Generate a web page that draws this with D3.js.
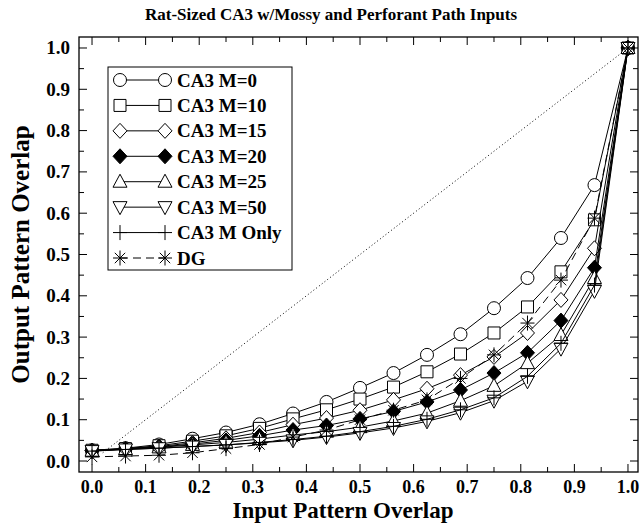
<!DOCTYPE html>
<html><head><meta charset="utf-8">
<script src="https://cdn.jsdelivr.net/npm/d3@7"></script>
<style>
body{margin:0;background:#fff}
svg{display:block}
text{font-family:"Liberation Serif","Times New Roman",serif;font-weight:bold;fill:#000}
</style>
</head><body>
<svg id="chart" width="640" height="525"></svg>
<script>
const inputOverlap = [0, 0.0625, 0.125, 0.1875, 0.25, 0.3125, 0.375, 0.4375, 0.5, 0.5625, 0.625, 0.6875, 0.75, 0.8125, 0.875, 0.9375, 1.0];
const seriesNames = ["CA3 M=0", "CA3 M=10", "CA3 M=15", "CA3 M=20", "CA3 M=25", "CA3 M=50", "CA3 M Only", "DG"];
const ca3M0    = [0.026, 0.031, 0.040, 0.054, 0.069, 0.089, 0.115, 0.143, 0.177, 0.213, 0.257, 0.307, 0.370, 0.443, 0.540, 0.668, 1.0];
const ca3M10   = [0.026, 0.030, 0.037, 0.048, 0.061, 0.079, 0.102, 0.124, 0.150, 0.179, 0.216, 0.259, 0.310, 0.373, 0.458, 0.584, 1.0];
const ca3M15   = [0.025, 0.030, 0.035, 0.044, 0.055, 0.069, 0.088, 0.104, 0.123, 0.148, 0.175, 0.208, 0.252, 0.310, 0.390, 0.515, 1.0];
const ca3M20   = [0.025, 0.029, 0.034, 0.041, 0.050, 0.061, 0.075, 0.086, 0.102, 0.120, 0.143, 0.172, 0.213, 0.262, 0.340, 0.468, 1.0];
const ca3M25   = [0.025, 0.029, 0.033, 0.039, 0.045, 0.053, 0.063, 0.071, 0.082, 0.097, 0.116, 0.146, 0.182, 0.237, 0.305, 0.443, 1.0];
const ca3M50   = [0.024, 0.028, 0.031, 0.035, 0.039, 0.044, 0.050, 0.058, 0.068, 0.080, 0.096, 0.117, 0.146, 0.193, 0.272, 0.412, 1.0];
const ca3MOnly = [0.024, 0.028, 0.031, 0.035, 0.039, 0.045, 0.052, 0.060, 0.071, 0.084, 0.101, 0.124, 0.153, 0.205, 0.285, 0.426, 1.0];
const dg       = [0.010, 0.012, 0.014, 0.020, 0.030, 0.040, 0.058, 0.075, 0.100, 0.123, 0.148, 0.200, 0.257, 0.334, 0.438, 0.588, 1.0];
const identityLine = [[0.02, 0.02], [1.0, 1.0]];
const majorTicks = [0, 0.1, 0.2, 0.3, 0.4, 0.5, 0.6, 0.7, 0.8, 0.9, 1.0];
const minorTicks = [0.05, 0.15, 0.25, 0.35, 0.45, 0.55, 0.65, 0.75, 0.85, 0.95];

const seriesValues = [ca3M0, ca3M10, ca3M15, ca3M20, ca3M25, ca3M50, ca3MOnly, dg];
const markerKinds = ["circle", "square", "diamond", "diamondFilled", "triUp", "triDown", "plus", "star"];

const svg = d3.select("#chart");
const L = 79, R = 638, T = 37, B = 472;
const x = d3.scaleLinear().domain([-0.0243, 1.0187]).range([L, R]);
const y = d3.scaleLinear().domain([-0.0266, 1.0266]).range([B, T]);

function markerPath(kind) {
  const p = d3.path();
  switch (kind) {
    case "circle": p.moveTo(6.5, 0); p.arc(0, 0, 6.5, 0, 2 * Math.PI); break;
    case "square": p.rect(-6, -6, 12, 12); break;
    case "diamond":
    case "diamondFilled": p.moveTo(0, -7.5); p.lineTo(7, 0); p.lineTo(0, 7.5); p.lineTo(-7, 0); p.closePath(); break;
    case "triUp": p.moveTo(0, -7.5); p.lineTo(7, 5.5); p.lineTo(-7, 5.5); p.closePath(); break;
    case "triDown": p.moveTo(0, 7.5); p.lineTo(7, -5.5); p.lineTo(-7, -5.5); p.closePath(); break;
    case "plus": p.moveTo(-7, 0); p.lineTo(7, 0); p.moveTo(0, -7.5); p.lineTo(0, 7.5); break;
    case "star": {
      p.moveTo(-7, 0); p.lineTo(7, 0); p.moveTo(0, -7.5); p.lineTo(0, 7.5);
      const d = 5.2; p.moveTo(-d, -d); p.lineTo(d, d); p.moveTo(-d, d); p.lineTo(d, -d);
      break;
    }
  }
  return p.toString();
}
function markerFill(kind) {
  if (kind === "diamondFilled") return "#000";
  if (kind === "plus" || kind === "star") return "none";
  return "#fff";
}

// frame
svg.append("rect").attr("x", L).attr("y", T).attr("width", R - L).attr("height", B - T)
  .attr("fill", "none").attr("stroke", "#000").attr("stroke-width", 1.3);

// axes with inward ticks
const gAx = svg.append("g");
function addTicks(vals, len) {
  vals.forEach(v => {
    gAx.append("line").attr("x1", x(v)).attr("x2", x(v)).attr("y1", B).attr("y2", B - len).attr("stroke", "#000");
    gAx.append("line").attr("x1", x(v)).attr("x2", x(v)).attr("y1", T).attr("y2", T + len).attr("stroke", "#000");
    gAx.append("line").attr("y1", y(v)).attr("y2", y(v)).attr("x1", L).attr("x2", L + len).attr("stroke", "#000");
    gAx.append("line").attr("y1", y(v)).attr("y2", y(v)).attr("x1", R).attr("x2", R - len).attr("stroke", "#000");
  });
}
addTicks(majorTicks, 8);
addTicks(minorTicks, 5);

const fmt = d3.format(".1f");
svg.append("g").selectAll("text").data(majorTicks).join("text")
  .attr("x", d => x(d)).attr("y", 493).attr("text-anchor", "middle")
  .style("font-size", "18px").text(d => fmt(d));
svg.append("g").selectAll("text").data(majorTicks).join("text")
  .attr("x", 70).attr("y", d => y(d) + 6.5).attr("text-anchor", "end")
  .style("font-size", "19px").text(d => fmt(d));

svg.append("text").attr("x", 343).attr("y", 518).attr("text-anchor", "middle")
  .style("font-size", "23px").text("Input Pattern Overlap");
svg.append("text").attr("transform", `translate(29,${(T + B) / 2}) rotate(-90)`).attr("text-anchor", "middle")
  .style("font-size", "25px").text("Output Pattern Overlap");
svg.append("text").attr("x", 331).attr("y", 20).attr("text-anchor", "middle")
  .style("font-size", "17px").text("Rat-Sized CA3 w/Mossy and Perforant Path Inputs");

// identity dotted line
const line = d3.line().x(d => x(d[0])).y(d => y(d[1]));
svg.append("path").attr("d", line(identityLine)).attr("fill", "none")
  .attr("stroke", "#000").attr("stroke-width", 1).attr("stroke-dasharray", "1,2.5");

// series
seriesValues.forEach((vals, i) => {
  const pts = vals.map((v, j) => [inputOverlap[j], v]);
  const kind = markerKinds[i];
  const g = svg.append("g");
  g.append("path").attr("d", line(pts)).attr("fill", "none").attr("stroke", "#000").attr("stroke-width", 1)
    .attr("stroke-dasharray", kind === "star" ? "8,5" : null);
  g.selectAll("path.m").data(pts).join("path").attr("class", "m")
    .attr("transform", d => `translate(${x(d[0])},${y(d[1])})`)
    .attr("d", markerPath(kind)).attr("fill", markerFill(kind)).attr("stroke", "#000").attr("stroke-width", 1);
});

// legend
const lg = svg.append("g");
const rowY = d3.scaleLinear().domain([0, 7]).range([80, 258]);
lg.append("rect").attr("x", 108).attr("y", 67).attr("width", 184).attr("height", 203)
  .attr("fill", "#fff").attr("stroke", "#000").attr("stroke-width", 1);
seriesNames.forEach((name, i) => {
  const yy = rowY(i), kind = markerKinds[i];
  lg.append("line").attr("x1", 120).attr("x2", 165).attr("y1", yy).attr("y2", yy)
    .attr("stroke", "#000").attr("stroke-dasharray", kind === "star" ? "8,5" : null);
  [120, 165].forEach(xx => lg.append("path").attr("transform", `translate(${xx},${yy})`)
    .attr("d", markerPath(kind)).attr("fill", markerFill(kind)).attr("stroke", "#000"));
  lg.append("text").attr("x", 177).attr("y", yy + 6.5).style("font-size", "19px").text(name);
});
</script>
</body></html>
